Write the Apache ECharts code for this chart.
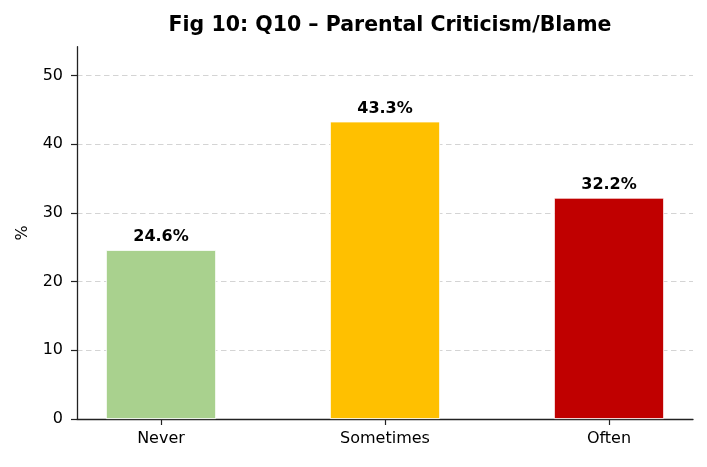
<!DOCTYPE html>
<html>
<head>
<meta charset="utf-8">
<script src="https://cdn.jsdelivr.net/npm/echarts@6/dist/echarts.min.js"></script>
<style>
  html, body { margin: 0; padding: 0; background: #fff; }
  #main { width: 707px; height: 467px; }
</style>
</head>
<body>
<div id="main"></div>
<script>
// data
var categories = ["Never", "Sometimes", "Often"];
var percents = [24.6, 43.3, 32.2];
var barColors = ["#a9d18e", "#ffc000", "#c00000"];
var yTicks = [0, 10, 20, 30, 40, 50];

var myChart = echarts.init(document.getElementById("main"));
var font = "DejaVu Sans";

var barData = percents.map(function (v, i) {
  return { value: [i, v], itemStyle: { color: barColors[i] } };
});

myChart.setOption({
  animation: false,
  title: {
    text: "Fig 10: Q10 – Parental Criticism/Blame",
    left: 385,
    textAlign: "center",
    top: 10,
    textStyle: { fontFamily: font, fontSize: 20.5, fontWeight: "bold", color: "#000" }
  },
  grid: { left: 77, right: 14, top: 46.7, bottom: 48 },
  xAxis: {
    type: "value",
    min: -0.375,
    max: 2.375,
    axisLine: { show: true, onZero: false, lineStyle: { color: "#222", width: 1.3 } },
    axisTick: { show: true, customValues: [0, 1, 2], length: 6, lineStyle: { color: "#222", width: 1.2 } },
    axisLabel: {
      customValues: [0, 1, 2],
      formatter: function (v) { return categories[Math.round(v)]; },
      fontFamily: font, fontSize: 16, color: "#000", margin: 12
    },
    splitLine: { show: false }
  },
  yAxis: {
    type: "value",
    min: 0,
    max: 54.2,
    interval: 10,
    name: "%",
    nameLocation: "middle",
    nameGap: 46,
    nameTextStyle: { fontFamily: font, fontSize: 16, color: "#000" },
    axisLine: { show: true, onZero: false, lineStyle: { color: "#222", width: 1.3 } },
    axisTick: { show: true, length: 6, lineStyle: { color: "#222", width: 1.2 } },
    axisLabel: {
      fontFamily: font, fontSize: 16, color: "#000", margin: 14,
      showMaxLabel: false,
      formatter: function (v) { return yTicks.indexOf(v) >= 0 ? String(v) : ""; }
    },
    splitLine: { show: true, showMaxLine: false, showMinLine: false, lineStyle: { color: "#d4d4d4", type: [5.5, 3.5], width: 1 } }
  },
  series: [{
    type: "bar",
    data: barData,
    barWidth: 110,
    itemStyle: { borderColor: "#fff", borderWidth: 0.8 },
    label: {
      show: true,
      position: "top",
      distance: 5,
      formatter: function (p) { return p.value[1].toFixed(1) + "%"; },
      fontFamily: font, fontSize: 16, fontWeight: "bold", color: "#000"
    }
  }]
});
</script>
</body>
</html>
